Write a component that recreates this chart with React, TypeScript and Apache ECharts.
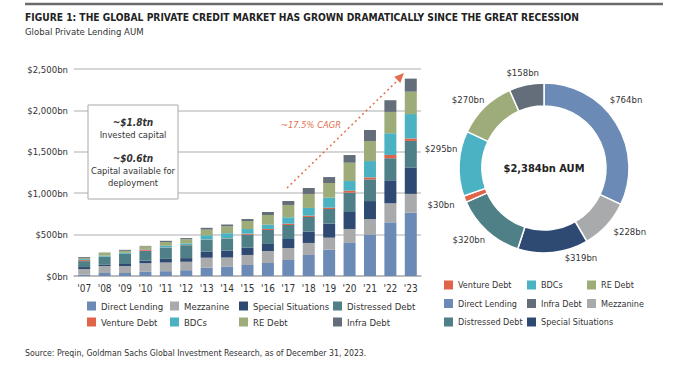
import React, { useEffect, useRef } from 'react';
import * as echarts from 'echarts';

const YEARS = ["'07", "'08", "'09", "'10", "'11", "'12", "'13", "'14", "'15", "'16", "'17", "'18", "'19", "'20", "'21", "'22", "'23"];
const DIRECT_LENDING = [16, 36, 36, 55, 58, 70, 100, 115, 133, 157, 193, 254, 318, 399, 495, 648, 764];
const MEZZANINE = [68, 85, 85, 100, 105, 102, 121, 108, 121, 145, 145, 145, 145, 169, 193, 230, 228];
const SPECIAL_SITUATIONS = [24, 14, 24, 30, 44, 44, 72, 85, 88, 85, 109, 137, 169, 205, 217, 278, 319];
const DISTRESSED_DEBT = [72, 97, 121, 120, 135, 155, 143, 143, 157, 169, 169, 177, 177, 233, 262, 266, 320];
const VENTURE_DEBT = [12, 2, 2, 16, 3, 3, 4, 4, 12, 12, 16, 16, 16, 24, 24, 40, 30];
const BDCS = [12, 12, 12, 6, 20, 20, 52, 62, 56, 52, 77, 93, 121, 117, 197, 262, 295];
const RE_DEBT = [12, 36, 24, 32, 45, 50, 68, 83, 97, 117, 149, 169, 177, 221, 242, 258, 270];
const INFRA_DEBT = [12, 2, 12, 5, 15, 14, 22, 22, 24, 36, 48, 72, 72, 93, 133, 141, 158];
const Y_TICKS = [0, 500, 1000, 1500, 2000, 2500];

const SERIES = [
  { name: 'Direct Lending', data: DIRECT_LENDING, color: '#6b8bb6' },
  { name: 'Mezzanine', data: MEZZANINE, color: '#a9aaac' },
  { name: 'Special Situations', data: SPECIAL_SITUATIONS, color: '#2f4a72' },
  { name: 'Distressed Debt', data: DISTRESSED_DEBT, color: '#4f7f87' },
  { name: 'Venture Debt', data: VENTURE_DEBT, color: '#df644a' },
  { name: 'BDCs', data: BDCS, color: '#4ab2c2' },
  { name: 'RE Debt', data: RE_DEBT, color: '#9eac79' },
  { name: 'Infra Debt', data: INFRA_DEBT, color: '#646e7a' },
];

// label nudges for the donut labels (layout only)
const LABEL_NUDGE: Record<string, number[]> = {
  'Direct Lending': [-5, -13],
  'Mezzanine': [10, -6],
  'Special Situations': [26, -13],
  'Distressed Debt': [-6, -5],
  'Venture Debt': [-7, -1],
  'BDCs': [0, -14],
  'RE Debt': [-4, 5],
  'Infra Debt': [0, 5],
};

const FONT = "'DejaVu Sans Condensed', 'Liberation Sans Narrow', sans-serif";
const TXT = '#333333';
const ORANGE = '#e2704f';

export default function App() {
  const ref = useRef<HTMLDivElement>(null);
  useEffect(() => {
    const chart = echarts.init(ref.current!, null, { renderer: 'svg' });
    const last = YEARS.length - 1;
    const pieData = SERIES.map((s) => ({ name: s.name, value: s.data[last], itemStyle: { color: s.color } }));
    const total = pieData.reduce((a, d) => a + d.value, 0);
    const legendBase = {
      orient: 'vertical' as const,
      icon: 'rect',
      itemWidth: 9,
      itemHeight: 9,
      selectedMode: false,
      textStyle: { fontFamily: FONT, fontSize: 9.5, color: TXT, lineHeight: 12 },
      padding: 0,
    };
    const pieLegendText = { fontFamily: FONT, fontSize: 9, color: TXT, lineHeight: 12 };
    const option: any = {
      animation: false,
      backgroundColor: '#ffffff',
      textStyle: { fontFamily: FONT },
      title: {
        left: 25,
        top: 12,
        padding: 0,
        itemGap: 4,
        text: 'FIGURE 1: THE GLOBAL PRIVATE CREDIT MARKET HAS GROWN DRAMATICALLY SINCE THE GREAT RECESSION',
        textStyle: { fontFamily: FONT, fontSize: 10.2, fontWeight: 'bold', color: '#222' },
        subtext: 'Global Private Lending AUM',
        subtextStyle: { fontFamily: FONT, fontSize: 9.5, color: TXT },
      },
      grid: { left: 74, right: 261, top: 69, bottom: 113, containLabel: false },
      xAxis: {
        type: 'category',
        data: YEARS,
        axisTick: { show: false },
        axisLine: { lineStyle: { color: '#b3b3b3', width: 1.5 } },
        axisLabel: { margin: 7, color: TXT, fontSize: 10, fontFamily: FONT },
      },
      yAxis: {
        type: 'value',
        min: Y_TICKS[0],
        max: Y_TICKS[Y_TICKS.length - 1],
        interval: Y_TICKS[1] - Y_TICKS[0],
        axisLine: { show: false },
        axisTick: { show: false },
        splitLine: { lineStyle: { color: '#c8c8c8', width: 1.5 } },
        axisLabel: {
          margin: 6,
          color: TXT,
          fontSize: 9.5,
          fontFamily: FONT,
          formatter: (v: number) => '$' + v.toLocaleString('en-US') + 'bn',
        },
      },
      legend: [
        { ...legendBase, left: 87, top: 300, itemGap: 4, data: ['Direct Lending', 'Venture Debt'] },
        { ...legendBase, left: 170, top: 300, itemGap: 4, data: ['Mezzanine', 'BDCs'] },
        { ...legendBase, left: 239, top: 300, itemGap: 4, data: ['Special Situations', 'RE Debt'] },
        { ...legendBase, left: 333, top: 300, itemGap: 4, data: ['Distressed Debt', 'Infra Debt'] },
        { ...legendBase, textStyle: pieLegendText, left: 444, top: 279, itemGap: 6.5, data: ['Venture Debt', 'Direct Lending', 'Distressed Debt'] },
        { ...legendBase, textStyle: pieLegendText, left: 527, top: 279, itemGap: 6.5, data: ['BDCs', 'Infra Debt', 'Special Situations'] },
        { ...legendBase, textStyle: pieLegendText, left: 587, top: 279, itemGap: 6.5, data: ['RE Debt', 'Mezzanine'] },
      ],
      series: [
        ...SERIES.map((s) => ({
          name: s.name,
          type: 'bar',
          stack: 'total',
          barWidth: 12,
          data: s.data,
          itemStyle: { color: s.color },
        })),
        {
          name: 'AUM 2023',
          type: 'pie',
          center: [544, 168],
          radius: [62, 85],
          startAngle: 90,
          clockwise: true,
          silent: true,
          label: { show: false },
          labelLine: { show: false },
          itemStyle: { borderColor: '#ffffff', borderWidth: 1.5 },
          data: pieData,
        },
        {
          name: 'AUM 2023 labels',
          type: 'pie',
          center: [544, 168],
          radius: [92, 108],
          startAngle: 90,
          clockwise: true,
          silent: true,
          labelLine: { show: false },
          itemStyle: { color: 'rgba(0,0,0,0)' },
          label: {
            show: true,
            position: 'inside',
            color: TXT,
            fontSize: 9.5,
            fontFamily: FONT,
            formatter: (p: any) => '$' + p.value + 'bn',
          },
          data: pieData.map((d) => ({
            name: d.name,
            value: d.value,
            label: { offset: LABEL_NUDGE[d.name] },
          })),
        },
      ],
      graphic: [
        { type: 'line', shape: { x1: 25, y1: 4, x2: 663, y2: 4 }, style: { stroke: '#6b6b6b', lineWidth: 2.5 } },
        { type: 'rect', z: 10, shape: { x: 88, y: 105, width: 90, height: 94 }, style: { fill: '#fff', stroke: '#a8a8a8', lineWidth: 1 } },
        { type: 'text', z: 11, x: 133, y: 122, style: { text: '~$1.8tn', font: `italic bold 10px ${FONT}`, fill: TXT, textAlign: 'center', textVerticalAlign: 'middle' } },
        { type: 'text', z: 11, x: 133, y: 134, style: { text: 'Invested capital', font: `9.3px ${FONT}`, fill: TXT, textAlign: 'center', textVerticalAlign: 'middle' } },
        { type: 'text', z: 11, x: 133, y: 158, style: { text: '~$0.6tn', font: `italic bold 10px ${FONT}`, fill: TXT, textAlign: 'center', textVerticalAlign: 'middle' } },
        { type: 'text', z: 11, x: 133, y: 170, style: { text: 'Capital available for', font: `9.3px ${FONT}`, fill: TXT, textAlign: 'center', textVerticalAlign: 'middle' } },
        { type: 'text', z: 11, x: 133, y: 182, style: { text: 'deployment', font: `9.3px ${FONT}`, fill: TXT, textAlign: 'center', textVerticalAlign: 'middle' } },
        { type: 'line', z: 11, shape: { x1: 287, y1: 188, x2: 398, y2: 80 }, style: { stroke: ORANGE, lineWidth: 1.5, lineDash: [2, 3] } },
        { type: 'polygon', z: 11, shape: { points: [[404, 73], [400.3, 83], [394.2, 76.8]] }, style: { fill: ORANGE } },
        { type: 'text', z: 11, x: 311, y: 124, style: { text: '~17.5% CAGR', font: `italic 9.3px ${FONT}`, fill: ORANGE, textAlign: 'center', textVerticalAlign: 'middle' } },
        { type: 'text', z: 11, x: 544, y: 168, style: { text: '$' + total.toLocaleString('en-US') + 'bn AUM', font: `bold 11px ${FONT}`, fill: '#222', textAlign: 'center', textVerticalAlign: 'middle' } },
        { type: 'text', z: 11, x: 25, y: 353, style: { text: 'Source: Preqin, Goldman Sachs Global Investment Research, as of December 31, 2023.', font: `8.7px ${FONT}`, fill: TXT, textVerticalAlign: 'middle' } },
      ],
    };
    chart.setOption(option);
    return () => chart.dispose();
  }, []);
  return <div ref={ref} style={{ position: 'absolute', left: 0, top: 0, width: 682, height: 389, background: '#fff' }} />;
}
